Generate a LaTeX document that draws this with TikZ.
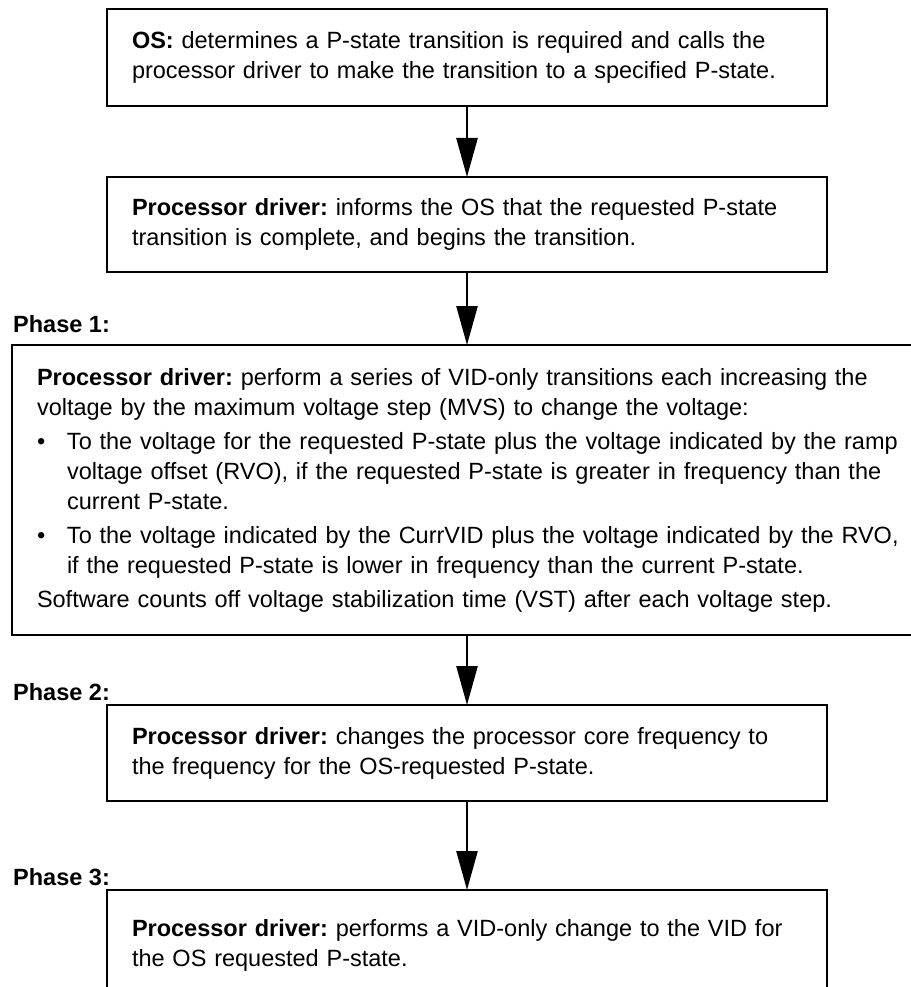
\documentclass[tikz,border=0pt]{standalone}
\usepackage{fontspec}
\setmainfont{Liberation Sans}
\usetikzlibrary{arrows.meta,positioning}

\newcommand{\boxfont}{\fontsize{23.5}{30}\selectfont\frenchspacing}
\newcommand{\bul}{\makebox[30pt][l]{\textbullet}}
\newcommand{\ind}{\hspace*{30pt}}

\tikzset{
  stepbox/.style={draw, line width=2pt, rectangle, anchor=north west, outer sep=0pt,
    align=left, inner xsep=25pt, inner ysep=0pt, font=\boxfont},
  flow/.style={line width=2.6pt, -{Triangle[length=39pt,width=21pt]}},
  phase/.style={anchor=base west, inner sep=0pt, font=\boxfont\bfseries},
}

\begin{document}
\begin{tikzpicture}[x=1pt, y=-1pt]
  \useasboundingbox (0,0) rectangle (910,987);

  % OS request
  \node[stepbox, text width=670pt, minimum height=97pt] (os) at (107,9)
    {\textbf{OS:} determines a P-state transition is required and calls the\\
     processor driver to make the transition to a specified P-state.};

  % driver acknowledges
  \node[stepbox, text width=670pt, minimum height=95pt] (drv) at (107,177)
    {\textbf{Processor driver:} informs the OS that the requested P-state\\
     transition is complete, and begins the transition.};

  % Phase 1
  \node[phase] (lbl1) at (13,332) {Phase 1:};
  \node[stepbox, text width=900pt, minimum height=290pt] (volt) at (12,345)
    {\textbf{Processor driver:} perform a series of VID-only transitions each increasing the\\
     voltage by the maximum voltage step (MVS) to change the voltage:\\[4pt]
     \bul To the voltage for the requested P-state plus the voltage indicated by the ramp\\
     \ind voltage offset (RVO), if the requested P-state is greater in frequency than the\\
     \ind current P-state.\\[4pt]
     \bul To the voltage indicated by the CurrVID plus the voltage indicated by the RVO,\\
     \ind if the requested P-state is lower in frequency than the current P-state.\\[4pt]
     Software counts off voltage stabilization time (VST) after each voltage step.};

  % Phase 2
  \node[phase] (lbl2) at (13,700) {Phase 2:};
  \node[stepbox, text width=670pt, minimum height=96pt] (freq) at (107,705)
    {\textbf{Processor driver:} changes the processor core frequency to\\
     the frequency for the OS-requested P-state.};

  % Phase 3
  \node[phase] (lbl3) at (13,885) {Phase 3:};
  \node[stepbox, text width=670pt, minimum height=110pt] (vid) at (107,890)
    {\textbf{Processor driver:} performs a VID-only change to the VID for\\
     the OS requested P-state.};

  % Arrows
  \draw[flow] (os.south) -- (drv.north);
  \draw[flow] (drv.south) -- (drv.south |- volt.north);
  \draw[flow] (drv.south |- volt.south) -- (freq.north);
  \draw[flow] (freq.south) -- (vid.north);
\end{tikzpicture}
\end{document}
